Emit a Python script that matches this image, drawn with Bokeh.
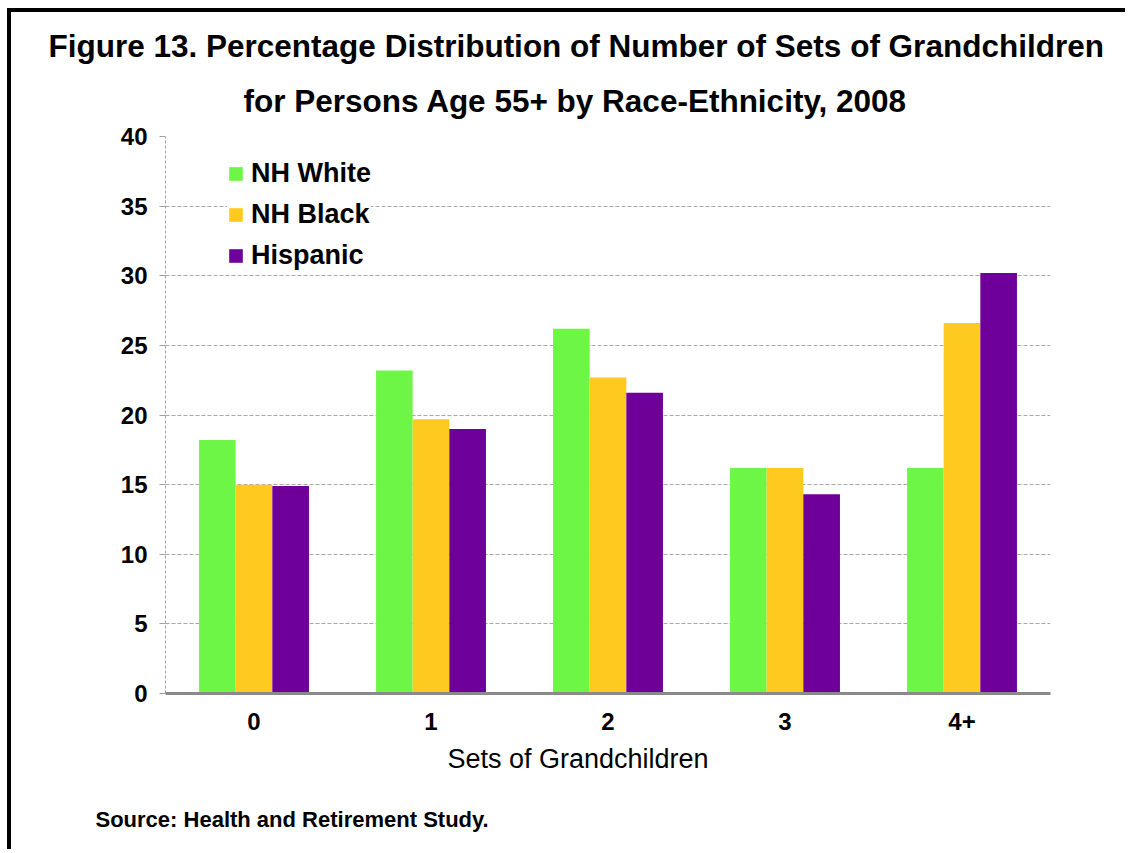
from bokeh.plotting import figure
from bokeh.models import (FactorRange, Range1d, FixedTicker, Legend, LegendItem,
                          Title, ColumnDataSource)
from bokeh.transform import dodge
from bokeh.embed import file_html
from bokeh.resources import INLINE

# ---- data ----
categories = ["0", "1", "2", "3", "4+"]
nh_white = [18.2, 23.2, 26.2, 16.2, 16.2]
nh_black = [15.0, 19.7, 22.7, 16.2, 26.6]
hispanic = [14.9, 19.0, 21.6, 14.3, 30.2]
series_names = ["NH White", "NH Black", "Hispanic"]
y_ticks = [0, 5, 10, 15, 20, 25, 30, 35, 40]

colors = ["#6EF646", "#FFCA1F", "#6E0099"]
FONT = "Liberation Sans"

src = ColumnDataSource(dict(cat=categories, w=nh_white, b=nh_black, h=hispanic))

W, H = 1118, 841   # canvas (page offset 11,12 because of border)
p = figure(x_range=FactorRange(*categories, range_padding=0), y_range=Range1d(0, 40),
           width=W, height=H, output_backend="svg", toolbar_location=None,
           min_border_left=154, min_border_right=W - 1039,
           min_border_top=124, min_border_bottom=H - 682)
p.styles = {"border-left": "4px solid #000", "border-top": "4px solid #000",
            "margin-left": "7px", "margin-top": "8px"}
p.outline_line_color = None
p.background_fill_color = "white"
p.border_fill_color = "white"

bw = 0.207
r1 = p.vbar(x=dodge("cat", -bw, range=p.x_range), top="w", width=bw, source=src,
            color=colors[0], line_color=None)
r2 = p.vbar(x=dodge("cat", 0.0, range=p.x_range), top="b", width=bw, source=src,
            color=colors[1], line_color=None)
r3 = p.vbar(x=dodge("cat", bw, range=p.x_range), top="h", width=bw, source=src,
            color=colors[2], line_color=None)

# axes
p.yaxis.ticker = FixedTicker(ticks=y_ticks)
p.yaxis.major_label_text_font = FONT
p.yaxis.major_label_text_font_style = "bold"
p.yaxis.major_label_text_font_size = "24px"
p.yaxis.major_label_text_color = "black"
p.yaxis.axis_line_color = "#a0a0a0"
p.yaxis.axis_line_dash = "3 2"
p.yaxis.major_tick_line_color = "#a0a0a0"
p.yaxis.major_tick_out = 6
p.yaxis.major_tick_in = 0
p.yaxis.minor_tick_line_color = None
p.yaxis.major_label_standoff = 12

p.xaxis.axis_line_color = "#8a8a8a"
p.xaxis.axis_line_width = 3
p.xaxis.major_tick_line_color = None
p.xaxis.minor_tick_line_color = None
p.xaxis.major_label_text_font = FONT
p.xaxis.major_label_text_font_style = "bold"
p.xaxis.major_label_text_font_size = "24px"
p.xaxis.major_label_text_color = "black"
p.xaxis.major_label_standoff = 13

p.xgrid.grid_line_color = None
p.ygrid.grid_line_color = "#a8a8a8"
p.ygrid.grid_line_dash = "4 2"
p.ygrid.grid_line_width = 1

legend = Legend(items=[LegendItem(label=series_names[0], renderers=[r1]),
                       LegendItem(label=series_names[1], renderers=[r2]),
                       LegendItem(label=series_names[2], renderers=[r3])],
                location=(62, 422), orientation="vertical")
legend.label_text_font = FONT
legend.label_text_font_style = "bold"
legend.label_text_font_size = "27px"
legend.label_text_color = "black"
legend.glyph_width = 17
legend.glyph_height = 17
legend.label_height = 30
legend.spacing = 10
legend.label_standoff = 7
legend.padding = 20
legend.margin = 0
legend.border_line_color = None
legend.background_fill_color = "white"
legend.background_fill_alpha = 1.0
p.add_layout(legend, "center")

# titles (above: first added is closest to the frame); left aligned with offsets
def title(text, size, style="bold", offset=0, standoff=0):
    return Title(text=text, text_font=FONT, text_font_style=style,
                 text_font_size=size, text_color="black", align="left",
                 offset=offset, standoff=standoff)

p.add_layout(title("for Persons Age 55+ by Race-Ethnicity, 2008", "31.5px",
                   offset=78, standoff=35), "above")
p.add_layout(title("Figure 13. Percentage Distribution of Number of Sets of Grandchildren",
                   "31.5px", offset=-117, standoff=0), "above")
p.add_layout(title("Sets of Grandchildren", "27px", style="normal", offset=282,
                   standoff=18), "below")
p.add_layout(title("Source:  Health and Retirement Study.", "22px",
                   offset=-70, standoff=44), "below")

open("out.html", "w").write(file_html(p, INLINE))
